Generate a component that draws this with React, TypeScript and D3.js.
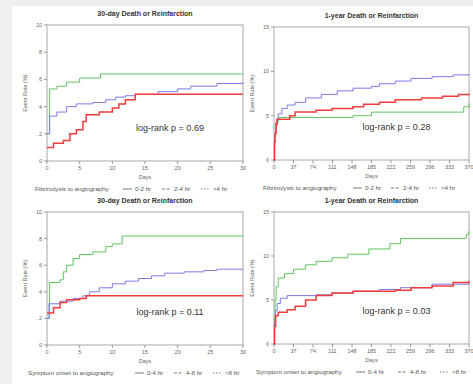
import React from "react";
import * as d3 from "d3";

type Pt = [number, number];

// ---- Titles / labels ----
const panelTitles = ["30-day Death or Reinfarction", "1-year Death or Reinfarction", "30-day Death or Reinfarction", "1-year Death or Reinfarction"];
const pValues = ["log-rank p = 0.69", "log-rank p = 0.28", "log-rank p = 0.11", "log-rank p = 0.03"];
const legendTitles = ["Fibrinolysis to angiography", "Symptom onset to angiography"];
const legendItemsTop = ["0-2 hr", "2-4 hr", ">4 hr"];
const legendItemsBottom = ["0-4 hr", "4-8 hr", ">8 hr"];
const ticks30 = [0, 5, 10, 15, 20, 25, 30];
const ticks370 = [0, 37, 74, 111, 148, 185, 222, 259, 296, 333, 370];
const yTicks10 = [0, 2, 4, 6, 8, 10];
const yTicks15 = [0, 5, 10, 15];

// ---- Series: [day, event rate %] ----
const tlGreen: Pt[] = [[0, 2.0], [0.4, 5.3], [1.5, 5.5], [3, 5.8], [5, 6.1], [8.2, 6.4], [30, 6.4]];
const tlBlue: Pt[] = [[0, 2.0], [0.4, 3.3], [1.5, 3.6], [3, 4.0], [4.5, 4.2], [7, 4.3], [9, 4.5], [10.5, 4.7], [12, 4.8], [13.5, 4.9], [17, 5.1], [20, 5.3], [22, 5.5], [26, 5.7], [30, 5.8]];
const tlRed: Pt[] = [[0, 1.0], [1, 1.3], [2.5, 1.5], [3.5, 2.0], [4.5, 2.3], [5.5, 2.9], [6, 3.4], [8, 3.6], [10, 3.9], [11, 4.2], [12, 4.5], [13.5, 4.9], [30, 4.9]];

const trBlue: Pt[] = [[0, 0], [1, 2], [2, 3], [3, 4], [5, 4.6], [8, 5.2], [15, 5.8], [25, 6.2], [40, 6.5], [60, 7.0], [90, 7.4], [120, 7.8], [150, 8.1], [185, 8.3], [200, 8.6], [230, 8.9], [260, 9.2], [300, 9.4], [340, 9.6], [370, 9.7]];
const trRed: Pt[] = [[0, 0], [1, 2], [2, 3], [4, 4], [6, 4.6], [30, 5.0], [40, 5.4], [80, 5.6], [110, 5.8], [150, 6.0], [170, 6.3], [200, 6.5], [230, 6.8], [280, 7.0], [320, 7.2], [350, 7.4], [370, 7.5]];
const trGreen: Pt[] = [[0, 0], [1, 2.5], [3, 4.2], [8, 4.8], [150, 5.0], [185, 5.4], [350, 5.4], [360, 6.0], [370, 6.4]];

const blGreen: Pt[] = [[0, 2.0], [0.4, 4.7], [2, 4.9], [2.5, 5.5], [3, 6.0], [4, 6.5], [5, 6.8], [7, 7.0], [9, 7.4], [10, 7.6], [11.5, 8.2], [30, 8.2]];
const blBlue: Pt[] = [[0, 2.0], [0.3, 3.1], [2, 3.3], [4, 3.5], [5.5, 3.7], [6.5, 4.0], [8, 4.3], [10, 4.6], [12, 4.8], [14, 5.0], [16, 5.2], [18, 5.4], [21, 5.5], [24, 5.6], [26, 5.7], [30, 5.7]];
const blRed: Pt[] = [[0, 2.4], [1, 2.8], [2, 3.2], [3, 3.4], [5, 3.5], [6, 3.7], [30, 3.7]];

const brGreen: Pt[] = [[0, 0], [1, 3], [2, 5], [4, 6.5], [8, 7.5], [20, 8.0], [37, 8.5], [60, 9.0], [80, 9.4], [110, 9.8], [140, 10.2], [180, 10.8], [220, 11.4], [240, 12.0], [355, 12.0], [365, 12.5], [370, 12.8]];
const brBlue: Pt[] = [[0, 0], [1, 2.5], [3, 3.8], [6, 4.6], [12, 5.2], [25, 5.5], [80, 5.6], [110, 5.8], [150, 6.0], [200, 6.2], [240, 6.4], [300, 6.8], [370, 7.0]];
const brRed: Pt[] = [[0, 0], [1, 2], [3, 3.2], [8, 3.6], [25, 3.9], [40, 4.3], [60, 5.0], [80, 5.5], [110, 5.8], [150, 6.0], [230, 6.1], [260, 6.4], [300, 6.6], [340, 7.0], [370, 7.2]];

const GREEN = "#5fc45f";
const BLUE = "#7b7bea";
const RED = "#f23c3c";
const FONT = "Liberation Sans, Arial, sans-serif";

interface PanelProps {
  x0: number; x1: number; y0: number; y1: number;
  title: string; p: string;
  xMax: number; xTicks: number[];
  yMax: number; yTicks: number[];
  green: Pt[]; blue: Pt[]; red: Pt[];
  legendTitle: string; legendItems: string[];
  legTitleDx: number; legItemsDx: number; legStep: number;
}

function Panel(props: PanelProps) {
  const { x0, x1, y0, y1 } = props;
  const xs = d3.scaleLinear().domain([0, props.xMax]).range([x0, x1]);
  const ys = d3.scaleLinear().domain([0, props.yMax]).range([y1, y0]);
  const line = d3.line<Pt>().x(d => xs(d[0])).y(d => ys(d[1])).curve(d3.curveStepAfter);
  const cx = (x0 + x1) / 2;
  const cy = (y0 + y1) / 2;
  const legendY = y1 + 30;
  const items = [
    { dash: "none", label: props.legendItems[0] },
    { dash: "3,1.5", label: props.legendItems[1] },
    { dash: "1.5,1.5", label: props.legendItems[2] },
  ];
  return (
    <g fontFamily={FONT}>
      <text x={cx} y={y0 - 9} textAnchor="middle" fontSize={7} fontWeight="bold" fill="#333">{props.title}</text>
      <rect x={x0} y={y0} width={x1 - x0} height={y1 - y0} fill="white" stroke="#a8a8a8" strokeWidth={1} />
      {props.yTicks.map(t => (
        <g key={"y" + t}>
          <line x1={x0 - 3} x2={x0} y1={ys(t)} y2={ys(t)} stroke="#999" />
          <text x={x0 - 5} y={ys(t) + 2} textAnchor="end" fontSize={5.5} fill="#666">{t}</text>
        </g>
      ))}
      {props.xTicks.map(t => (
        <g key={"x" + t}>
          <line x1={xs(t)} x2={xs(t)} y1={y1} y2={y1 + 3} stroke="#999" />
          <text x={xs(t)} y={y1 + 9} textAnchor="middle" fontSize={5.5} fill="#666">{t}</text>
        </g>
      ))}
      <text x={cx} y={y1 + 18} textAnchor="middle" fontSize={5.5} fill="#666">Days</text>
      <text transform={`translate(${x0 - 20},${cy}) rotate(-90)`} textAnchor="middle" fontSize={5.5} fill="#666">Event Rate (%)</text>
      <path d={line(props.green) || ""} fill="none" stroke={GREEN} strokeWidth={1} />
      <path d={line(props.blue) || ""} fill="none" stroke={BLUE} strokeWidth={1} />
      <path d={line(props.red) || ""} fill="none" stroke={RED} strokeWidth={1.5} />
      <text x={cx + 25} y={y1 - 30} textAnchor="middle" fontSize={9} fill="#333">{props.p}</text>
      <g>
        <text x={x0 + props.legTitleDx} y={legendY} fontSize={6.2} fill="#555">{props.legendTitle}</text>
        {items.map((it, i) => {
          const lx = x0 + props.legItemsDx + i * props.legStep;
          return (
            <g key={"l" + i}>
              <line x1={lx} x2={lx + 9} y1={legendY - 2} y2={legendY - 2} stroke="#555" strokeWidth={0.8} strokeDasharray={it.dash} />
              <text x={lx + 12} y={legendY} fontSize={6.2} fill="#555">{it.label}</text>
            </g>
          );
        })}
      </g>
    </g>
  );
}

export default function App() {
  return (
    <svg width={473} height={384} style={{ position: "absolute", left: 0, top: 0 }}>
      <rect x={0} y={0} width={473} height={384} fill="#efefef" />
      <rect x={12} y={6} width={461} height={378} fill="white" />
      <Panel x0={47} x1={243} y0={25} y1={161} title={panelTitles[0]} p={pValues[0]} xMax={30} xTicks={ticks30} yMax={10} yTicks={yTicks10} green={tlGreen} blue={tlBlue} red={tlRed} legendTitle={legendTitles[0]} legendItems={legendItemsTop} legTitleDx={-12} legItemsDx={76} legStep={39} />
      <Panel x0={274} x1={469} y0={27} y1={160} title={panelTitles[1]} p={pValues[1]} xMax={370} xTicks={ticks370} yMax={15} yTicks={yTicks15} green={trGreen} blue={trBlue} red={trRed} legendTitle={legendTitles[0]} legendItems={legendItemsTop} legTitleDx={-11} legItemsDx={79} legStep={38} />
      <Panel x0={47} x1={243} y0={212} y1={345} title={panelTitles[2]} p={pValues[2]} xMax={30} xTicks={ticks30} yMax={10} yTicks={yTicks10} green={blGreen} blue={blBlue} red={blRed} legendTitle={legendTitles[1]} legendItems={legendItemsBottom} legTitleDx={-19} legItemsDx={88} legStep={39} />
      <Panel x0={274} x1={469} y0={212} y1={344} title={panelTitles[3]} p={pValues[3]} xMax={370} xTicks={ticks370} yMax={15} yTicks={yTicks15} green={brGreen} blue={brBlue} red={brRed} legendTitle={legendTitles[1]} legendItems={legendItemsBottom} legTitleDx={-18} legItemsDx={82} legStep={42} />
    </svg>
  );
}
